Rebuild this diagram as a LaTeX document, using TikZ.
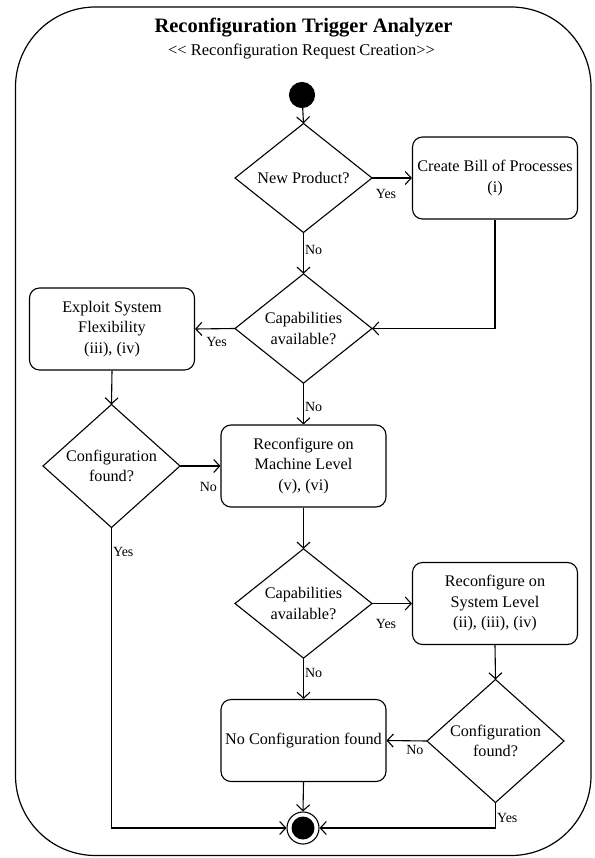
\documentclass[tikz,border=0pt]{standalone}
\usepackage{fontspec}
\setmainfont{Liberation Serif}
\usetikzlibrary{arrows.meta,shapes.geometric}

\begin{document}
\begin{tikzpicture}[x=1pt,y=-1pt,
  line width=1.1pt,
  every node/.style={font=\fontsize{16.2}{20.5}\selectfont},
  action/.style={draw,rounded corners=10pt,align=center,inner sep=0pt,
    minimum width=165pt,minimum height=82pt},
  decision/.style={draw,diamond,align=center,inner sep=0pt,outer sep=0pt,
    minimum width=137pt,minimum height=109pt},
  lbl/.style={font=\fontsize{14}{16}\selectfont,inner sep=1pt},
  flow/.style={-{Straight Barb[length=6pt,width=13pt,line width=1.1pt]}},
]
\useasboundingbox (0,0) rectangle (594,858);

% outer frame of the activity
\draw[line width=1.2pt,rounded corners=80pt] (15.5,7) rectangle (591,855.5);

\node[font=\fontsize{20.5}{24}\selectfont\bfseries] (title) at (303.5,28) {Reconfiguration Trigger Analyzer};
\node[font=\fontsize{16.5}{20}\selectfont] (stereo) at (301.5,51) {<{}< Reconfiguration Request Creation>{}>};

% start and end
\node[circle,fill=black,draw,minimum size=25pt,inner sep=0pt] (start) at (302,95) {};
\node[circle,draw,line width=1.1pt,minimum size=32pt,inner sep=0pt] (stop) at (303,828) {};
\fill (stop.center) circle (11.5pt);

% decisions
\node[decision] (newprod) at (303.5,178) {New Product?};
\node[decision] (cap1) at (303.5,328.5) {Capabilities\\available?};
\node[decision] (cfg1) at (111.5,466) {Configuration\\found?};
\node[decision] (cap2) at (303.5,603.5) {Capabilities\\available?};
\node[decision] (cfg2) at (495.5,741) {Configuration\\found?};

% actions
\node[action] (bop) at (495,178) {Create Bill of Processes\\(i)};
\node[action] (flex) at (112,329) {Exploit System\\Flexibility\\(iii), (iv)};
\node[action] (mach) at (303.5,466) {Reconfigure on\\Machine Level\\(v), (vi)};
\node[action] (sys) at (495,603.5) {Reconfigure on\\System Level\\(ii), (iii), (iv)};
\node[action] (none) at (303.5,740.5) {No Configuration found};

% control flow
\draw[flow] (start) -- (newprod.north);
\draw[flow] (newprod.east) -- (bop.west) node[lbl,pos=0.35,below=10pt] {Yes};
\draw[flow] (newprod.south) -- (cap1.north) node[lbl,pos=0.43,right] {No};
\draw[flow] (bop.south) |- (cap1.east);
\draw[flow] (cap1.west) -- (flex.east) node[lbl,pos=0.46,below=7pt] {Yes};
\draw[flow] (cap1.south) -- (mach.north) node[lbl,pos=0.57,right] {No};
\draw[flow] (flex.south) -- (cfg1.north);
\draw[flow] (cfg1.east) -- (mach.west) node[lbl,pos=0.7,below=15pt] {No};
\draw[flow] (cfg1.south) |- (stop.west) node[lbl,pos=0.04,right] {Yes};
\draw[flow] (mach.south) -- (cap2.north);
\draw[flow] (cap2.east) -- (sys.west) node[lbl,pos=0.35,below=14pt] {Yes};
\draw[flow] (cap2.south) -- (none.north) node[lbl,pos=0.36,right] {No};
\draw[flow] (sys.south) -- (cfg2.north);
\draw[flow] (cfg2.west) -- (none.east) node[lbl,pos=0.3,below=3pt] {No};
\draw[flow] (cfg2.south) |- (stop.east) node[lbl,pos=0.3,right] {Yes};
\draw[flow] (none.south) -- (stop.north);
\end{tikzpicture}
\end{document}
